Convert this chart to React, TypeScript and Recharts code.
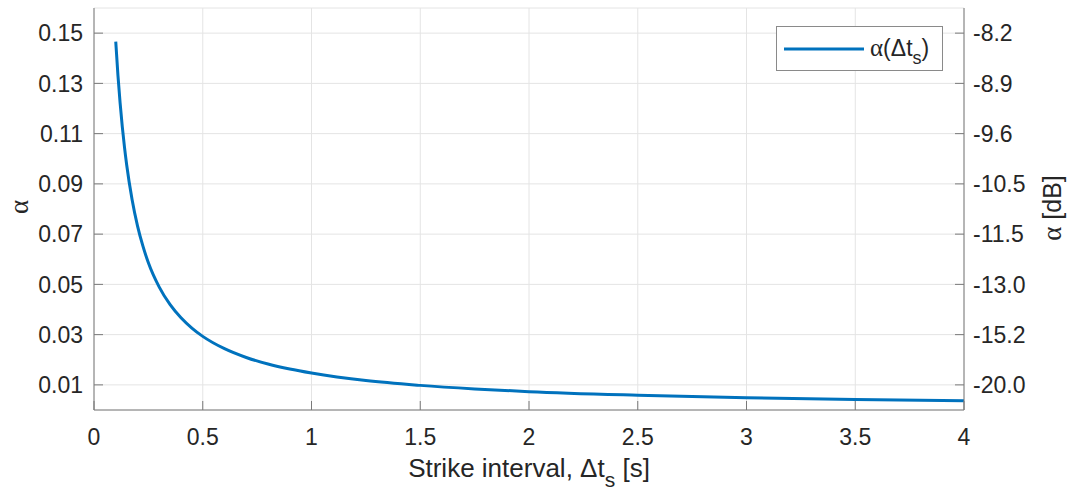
import React from 'react';
import { LineChart, Line, XAxis, YAxis, CartesianGrid, Legend, Label } from 'recharts';

const strikeInterval = [0.1, 0.11, 0.12, 0.13, 0.14, 0.15, 0.175, 0.2, 0.225, 0.25, 0.3, 0.35, 0.4, 0.45, 0.5, 0.6, 0.7, 0.8, 0.9, 1.0, 1.25, 1.5, 1.75, 2.0, 2.5, 3.0, 3.5, 4.0];
const alphaValues = [0.1466, 0.1333, 0.1222, 0.1128, 0.1047, 0.0977, 0.0838, 0.0733, 0.0652, 0.0586, 0.0489, 0.0419, 0.0367, 0.0326, 0.0293, 0.0244, 0.0209, 0.0183, 0.0163, 0.0147, 0.0117, 0.0098, 0.0084, 0.0073, 0.0059, 0.0049, 0.0042, 0.0037];

const xTicks = [0, 0.5, 1, 1.5, 2, 2.5, 3, 3.5, 4];
const xTickLabels = ['0', '0.5', '1', '1.5', '2', '2.5', '3', '3.5', '4'];
const yTicks = [0.01, 0.03, 0.05, 0.07, 0.09, 0.11, 0.13, 0.15];
const yTickLabels = ['0.01', '0.03', '0.05', '0.07', '0.09', '0.11', '0.13', '0.15'];
const dbTickLabels = ['-20.0', '-15.2', '-13.0', '-11.5', '-10.5', '-9.6', '-8.9', '-8.2'];

const data = strikeInterval.map((t, i) => ({ t, alpha: alphaValues[i] }));

const PLOT = { left: 94, right: 964, top: 8, bottom: 410 };
const AXIS_COLOR = '#7a7a7a';
const GRID_COLOR = '#e4e4e4';
const TEXT_COLOR = '#262626';
const LINE_COLOR = '#0072BD';
const FONT = '"Liberation Sans", Arial, Helvetica, sans-serif';
const SERIF = '"Liberation Serif", "DejaVu Serif", serif';
const TICK_LEN = 9;

const LeftTick = (props: any) => {
  const { y, payload } = props;
  const i = yTicks.indexOf(payload.value);
  return (
    <g>
      <line x1={PLOT.left} x2={PLOT.left + TICK_LEN} y1={y} y2={y} stroke={AXIS_COLOR} />
      <text x={PLOT.left - 11} y={y} dy="0.36em" textAnchor="end" fontSize={23} fill={TEXT_COLOR} fontFamily={FONT}>
        {yTickLabels[i]}
      </text>
    </g>
  );
};

const RightTick = (props: any) => {
  const { y, payload } = props;
  const i = yTicks.indexOf(payload.value);
  return (
    <g>
      <line x1={PLOT.right - TICK_LEN} x2={PLOT.right} y1={y} y2={y} stroke={AXIS_COLOR} />
      <text x={PLOT.right + 9} y={y} dy="0.36em" textAnchor="start" fontSize={23} fill={TEXT_COLOR} fontFamily={FONT}>
        {dbTickLabels[i]}
      </text>
    </g>
  );
};

const BottomTick = (props: any) => {
  const { x, payload } = props;
  const i = xTicks.indexOf(payload.value);
  return (
    <g>
      <line x1={x} x2={x} y1={PLOT.bottom - TICK_LEN} y2={PLOT.bottom} stroke={AXIS_COLOR} />
      <text x={x} y={PLOT.bottom + 35} textAnchor="middle" fontSize={23} fill={TEXT_COLOR} fontFamily={FONT}>
        {xTickLabels[i]}
      </text>
    </g>
  );
};

const TopTick = (props: any) => {
  const { x } = props;
  return <line x1={x} x2={x} y1={PLOT.top} y2={PLOT.top + TICK_LEN} stroke={AXIS_COLOR} />;
};

const XTitle = () => (
  <text x={(PLOT.left + PLOT.right) / 2} y={477} textAnchor="middle" fontSize={26} fill={TEXT_COLOR} fontFamily={FONT}>
    <tspan>Strike interval, Δt</tspan>
    <tspan fontSize={21} dy={10}>s</tspan>
    <tspan dy={-10}> [s]</tspan>
  </text>
);

const LeftTitle = () => (
  <text x={19} y={207} transform="rotate(-90 19 207)" textAnchor="middle" dy="0.35em" fontSize={27} fill={TEXT_COLOR} fontFamily={SERIF}>
    α
  </text>
);

const RightTitle = () => (
  <text x={1052} y={208} transform="rotate(-90 1052 208)" textAnchor="middle" dy="0.35em" fontSize={25} fill={TEXT_COLOR} fontFamily={FONT}>
    <tspan fontFamily={SERIF} fontSize={27}>α</tspan>
    <tspan> [dB]</tspan>
  </text>
);

const LegendBox = () => (
  <div
    style={{
      width: 165,
      height: 43,
      border: '1px solid #8a8a8a',
      background: '#fff',
      display: 'flex',
      alignItems: 'center',
      boxSizing: 'content-box',
    }}
  >
    <svg width={165} height={43}>
      <line x1={7} x2={87} y1={22} y2={22} stroke={LINE_COLOR} strokeWidth={3} />
      <text x={93} y={29} fontSize={23} fill={TEXT_COLOR} fontFamily={FONT}>
        <tspan fontFamily={SERIF} fontSize={25}>α</tspan>
        <tspan>(Δt</tspan>
        <tspan fontSize={18} dy={8}>s</tspan>
        <tspan dy={-8}>)</tspan>
      </text>
    </svg>
  </div>
);

export default function App() {
  return (
    <div style={{ position: 'absolute', left: 0, top: 0, width: 1076, height: 493, background: '#fff' }}>
      <LineChart
        width={1076}
        height={493}
        data={data}
        margin={{ top: PLOT.top, left: 10, right: 32, bottom: 23 }}
      >
        <CartesianGrid stroke={GRID_COLOR} strokeWidth={1} xAxisId="bottom" yAxisId="left" />
        <XAxis
          xAxisId="top"
          orientation="top"
          dataKey="t"
          type="number"
          domain={[0, 4]}
          ticks={xTicks}
          interval={0}
          height={0}
          tickSize={0}
          tickLine={false}
          tick={<TopTick />}
          axisLine={{ stroke: AXIS_COLOR }}
          allowDataOverflow
        />
        <XAxis
          xAxisId="bottom"
          dataKey="t"
          type="number"
          domain={[0, 4]}
          ticks={xTicks}
          interval={0}
          height={60}
          tickSize={0}
          tickLine={false}
          tick={<BottomTick />}
          axisLine={{ stroke: AXIS_COLOR }}
          allowDataOverflow
        >
          <Label content={<XTitle />} />
        </XAxis>
        <YAxis
          yAxisId="left"
          type="number"
          domain={[0, 0.16]}
          ticks={yTicks}
          interval={0}
          width={84}
          tickSize={0}
          tickLine={false}
          tick={<LeftTick />}
          axisLine={{ stroke: AXIS_COLOR }}
          allowDataOverflow
        >
          <Label content={<LeftTitle />} />
        </YAxis>
        <YAxis
          yAxisId="right"
          orientation="right"
          type="number"
          domain={[0, 0.16]}
          ticks={yTicks}
          interval={0}
          width={80}
          tickSize={0}
          tickLine={false}
          tick={<RightTick />}
          axisLine={{ stroke: AXIS_COLOR }}
          allowDataOverflow
        >
          <Label content={<RightTitle />} />
        </YAxis>
        <Line
          xAxisId="bottom"
          yAxisId="left"
          type="monotone"
          dataKey="alpha"
          name="α(Δts)"
          stroke={LINE_COLOR}
          strokeWidth={3}
          dot={false}
          activeDot={false}
          isAnimationActive={false}
        />
        <Legend
          layout="vertical"
          verticalAlign="middle"
          align="center"
          content={<LegendBox />}
          wrapperStyle={{ position: 'absolute', left: 776, top: 26, width: 167, height: 45 }}
        />
      </LineChart>
    </div>
  );
}
